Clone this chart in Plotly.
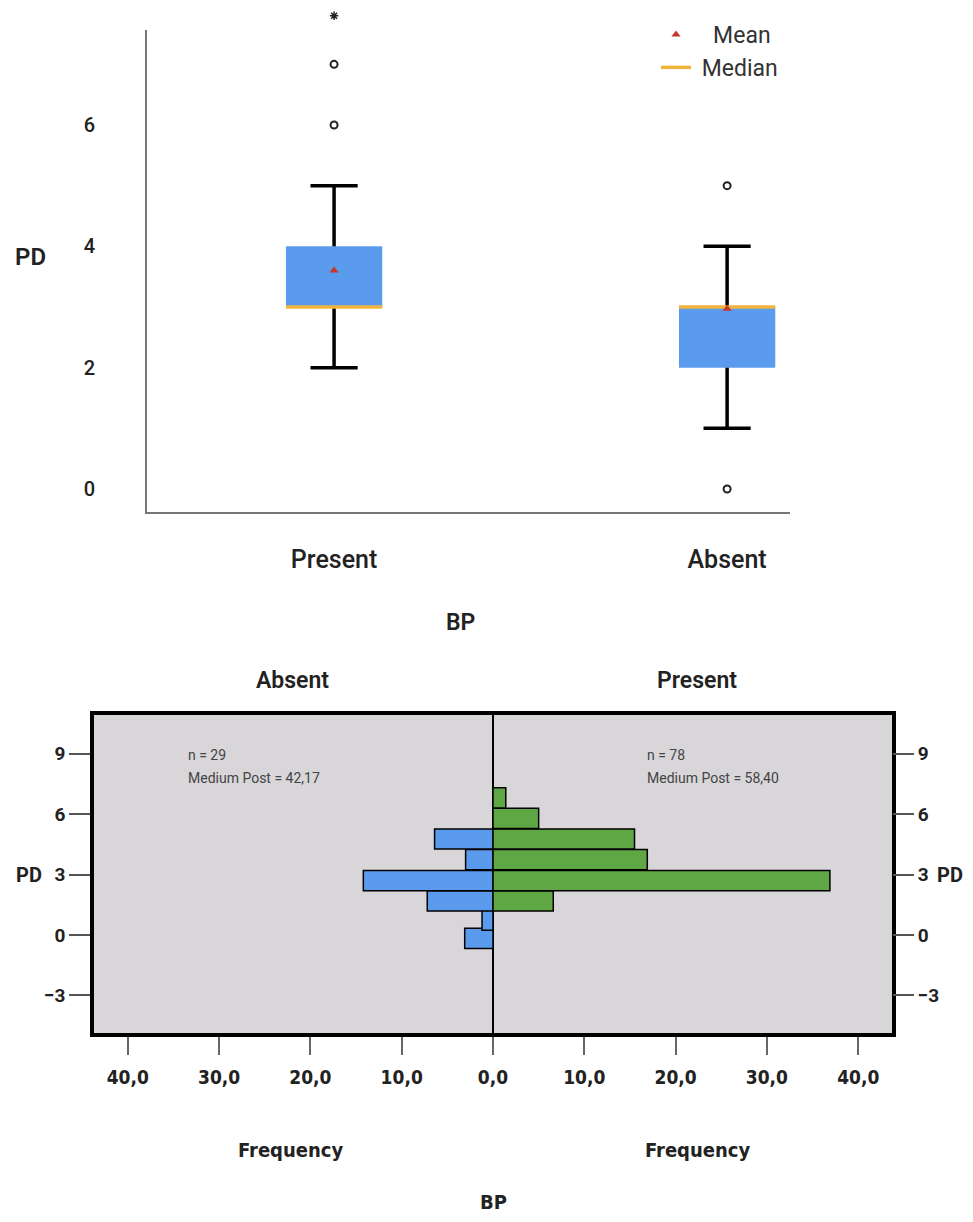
import plotly.graph_objects as go

# ---------------- data ----------------
# Top: box plot of PD by BP
categories = ["Present", "Absent"]
q1 = [3, 2]
median = [3, 3]
q3 = [4, 3]
whisker_low = [2, 1]
whisker_high = [5, 4]
mean = [3.6, 2.97]
outliers_present = [6, 7]
extreme_present = [7.8]
outliers_absent = [5, 0]
top_yticks = [0, 2, 4, 6]

# Bottom: population pyramid of PD frequencies
pd_bins = [-0.17, 0.74, 1.69, 2.70, 3.74, 4.76, 5.78, 6.80]
absent_freq = [3.1, 1.2, 7.2, 14.2, 3.0, 6.4, None, None]
present_freq = [None, None, 6.6, 36.9, 16.9, 15.5, 5.0, 1.4]
freq_tickvals = [-40, -30, -20, -10, 0, 10, 20, 30, 40]
freq_ticktext = ["40,0", "30,0", "20,0", "10,0", "0,0", "10,0", "20,0", "30,0", "40,0"]
pd_ticks = [-3, 0, 3, 6, 9]
absent_label = ["n = 29", "Medium Post = 42,17"]
present_label = ["n = 78", "Medium Post = 58,40"]

# ---------------- layout helpers (page pixels -> paper) ----------------
OFF = 8
W, H = 973 - 2 * OFF, 1222 - 2 * OFF


def px(x):
    return (x - OFF) / W


def py(y):
    return min(1.0, max(0.0, 1 - (y - OFF) / H))


BLUE = "#5b9bee"
GREEN = "#5fa744"
ORANGE = "#f0b43c"
RED = "#c8372b"
GRAY_BG = "#d8d6d9"
SANS = "Roboto, Liberation Sans, Arial, sans-serif"
NARROW = "Liberation Sans Narrow, DejaVu Sans Condensed, Arial Narrow, sans-serif"
NBSP = "\u00a0"

pos = list(range(len(categories)))
box_w = 0.245
cap_w = 0.12

# top chart scale: 0 at page y=489, 60.67 px per unit
TOP_Y0, TOP_PPU = 489, 60.67
top_range = [(TOP_Y0 - 512) / TOP_PPU, (TOP_Y0 - 30) / TOP_PPU]
out_range = [(TOP_Y0 - 512) / TOP_PPU, (TOP_Y0 - OFF) / TOP_PPU]

fig = go.Figure()

# boxes
fig.add_trace(go.Bar(
    x=pos, y=[b - a for a, b in zip(q1, q3)], base=q1, width=box_w,
    marker=dict(color=BLUE, line=dict(width=0)), showlegend=False,
    xaxis="x", yaxis="y", hoverinfo="skip"))

# whiskers + caps
wx, wy = [], []
for p, a, b, lo, hi in zip(pos, q1, q3, whisker_low, whisker_high):
    wx += [p, p, None, p - cap_w / 2, p + cap_w / 2, None,
           p, p, None, p - cap_w / 2, p + cap_w / 2, None]
    wy += [b, hi, None, hi, hi, None, a, lo, None, lo, lo, None]
fig.add_trace(go.Scatter(x=wx, y=wy, mode="lines", line=dict(color="black", width=3.5),
                         showlegend=False, hoverinfo="skip", xaxis="x", yaxis="y"))

# median lines
mx, my = [], []
for p, m in zip(pos, median):
    mx += [p - box_w / 2, p + box_w / 2, None]
    my += [m, m, None]
fig.add_trace(go.Scatter(x=mx, y=my, mode="lines", line=dict(color=ORANGE, width=3.5),
                         name=NBSP + "Median", legendrank=2, hoverinfo="skip", xaxis="x", yaxis="y"))

# means
fig.add_trace(go.Scatter(x=pos, y=mean, mode="markers",
                         marker=dict(symbol="triangle-up", color=RED, size=8),
                         name=NBSP * 3 + "Mean", legendrank=1, hoverinfo="skip", xaxis="x", yaxis="y"))

# outliers (on an invisible axis with the same scale but taller domain)
ox = [pos[0]] * len(outliers_present) + [pos[1]] * len(outliers_absent)
oy = outliers_present + outliers_absent
fig.add_trace(go.Scatter(x=ox, y=oy, mode="markers",
                         marker=dict(symbol="circle-open", color="#222", size=7, line=dict(width=2, color="#222")),
                         showlegend=False, hoverinfo="skip", xaxis="x", yaxis="y4", cliponaxis=False))
fig.add_trace(go.Scatter(x=[pos[0]] * len(extreme_present), y=extreme_present, mode="markers",
                         marker=dict(symbol="asterisk", color="#222", size=7, line=dict(width=1.5, color="#222")),
                         showlegend=False, hoverinfo="skip", xaxis="x", yaxis="y4", cliponaxis=False))

# ---------------- bottom pyramid ----------------
fig.add_trace(go.Bar(
    y=pd_bins, x=[(-v if v is not None else None) for v in absent_freq], orientation="h",
    width=1.0, marker=dict(color=BLUE, line=dict(color="black", width=1.5)),
    showlegend=False, hoverinfo="skip", xaxis="x2", yaxis="y2"))
fig.add_trace(go.Bar(
    y=pd_bins, x=present_freq, orientation="h",
    width=1.0, marker=dict(color=GREEN, line=dict(color="black", width=1.5)),
    showlegend=False, hoverinfo="skip", xaxis="x2", yaxis="y2"))
# carrier for the right-hand PD axis
fig.add_trace(go.Scatter(x=[0], y=[0], mode="markers", marker=dict(opacity=0, size=1),
                         showlegend=False, hoverinfo="skip", xaxis="x2", yaxis="y3"))

bottom_yr = [-4.86, 10.91]

fig.update_layout(
    width=W, height=H,
    margin=dict(l=0, r=0, t=0, b=0),
    paper_bgcolor="white", plot_bgcolor="rgba(0,0,0,0)",
    barmode="overlay",
    font=dict(family=SANS, color="#222"),
    xaxis=dict(domain=[px(147), px(790)], range=[-0.476, 1.160],
               tickvals=pos, ticktext=categories, showgrid=False, zeroline=False,
               showline=True, linecolor="#777", linewidth=2, ticks="",
               tickfont=dict(size=25, family=SANS, weight=500, color="#222"),
               ticklabelstandoff=24, anchor="y"),
    yaxis=dict(domain=[py(512), py(30)], range=top_range,
               tickvals=top_yticks, showgrid=False, zeroline=False,
               showline=True, linecolor="#777", linewidth=2, ticks="",
               tickfont=dict(size=20, family=SANS, weight=500, color="#222"),
               ticklabelstandoff=46, anchor="x"),
    yaxis4=dict(domain=[py(512), py(OFF)], range=out_range, visible=False, anchor="x",
                showgrid=False, zeroline=False),
    xaxis2=dict(domain=[px(94), px(892)], range=[-43.7, 43.7],
                tickvals=freq_tickvals, ticktext=freq_ticktext, showgrid=False,
                zeroline=True, zerolinecolor="black", zerolinewidth=1.5,
                showline=True, linecolor="black", linewidth=3.5, mirror=True,
                ticks="outside", ticklen=18, tickwidth=1.5, tickcolor="#666",
                tickfont=dict(size=19, family=NARROW, weight="bold", color="#222"),
                ticklabelstandoff=6, anchor="y2"),
    yaxis2=dict(domain=[py(1033), py(715)], range=bottom_yr,
                tickvals=pd_ticks, showgrid=False, zeroline=False,
                showline=True, linecolor="black", linewidth=3.5, mirror=True,
                ticks="outside", ticklen=21, tickwidth=2, tickcolor="#555",
                tickfont=dict(size=19, family=SANS, weight="bold", color="#222"),
                anchor="x2"),
    yaxis3=dict(overlaying="y2", side="right", range=bottom_yr, anchor="x2",
                tickvals=pd_ticks, showgrid=False, zeroline=False, showline=False,
                ticks="outside", ticklen=21, tickwidth=2, tickcolor="#555",
                tickfont=dict(size=19, family=SANS, weight="bold", color="#222")),
    legend=dict(x=px(656), y=py(13), xanchor="left", yanchor="top",
                bgcolor="rgba(0,0,0,0)", font=dict(size=23, family=SANS, color="#333"),
                itemwidth=30, tracegroupgap=0, traceorder="normal"),
    shapes=[dict(type="rect", xref="x2 domain", yref="y2 domain", x0=0, x1=1, y0=0, y1=1,
                 fillcolor=GRAY_BG, line=dict(width=0), layer="below")],
)


def ann(text, x, y, size, family=SANS, weight="bold", color="#222", xanchor="center"):
    fig.add_annotation(text=text, x=px(x), y=py(y), xref="paper", yref="paper",
                       showarrow=False, xanchor=xanchor, yanchor="middle",
                       font=dict(size=size, family=family, weight=weight, color=color))


ann("PD", 30, 257, 24, weight=600)
ann("BP", 460, 622, 23, weight=600)
ann("Absent", 292, 680, 23, weight=600)
ann("Present", 697, 680, 23, weight=600)
ann("PD", 29, 875, 20)
ann("PD", 965, 875, 20, xanchor="right")
ann("Frequency", 290, 1150, 20, family=NARROW)
ann("Frequency", 697, 1150, 20, family=NARROW)
ann("BP", 493, 1202, 20, family=NARROW)
ann(absent_label[0], 186, 755, 14, weight="normal", color="#444", xanchor="left")
ann(absent_label[1], 186, 778, 14, weight="normal", color="#444", xanchor="left")
ann(present_label[0], 645, 755, 14, weight="normal", color="#444", xanchor="left")
ann(present_label[1], 645, 778, 14, weight="normal", color="#444", xanchor="left")

fig.write_html("out.html")
